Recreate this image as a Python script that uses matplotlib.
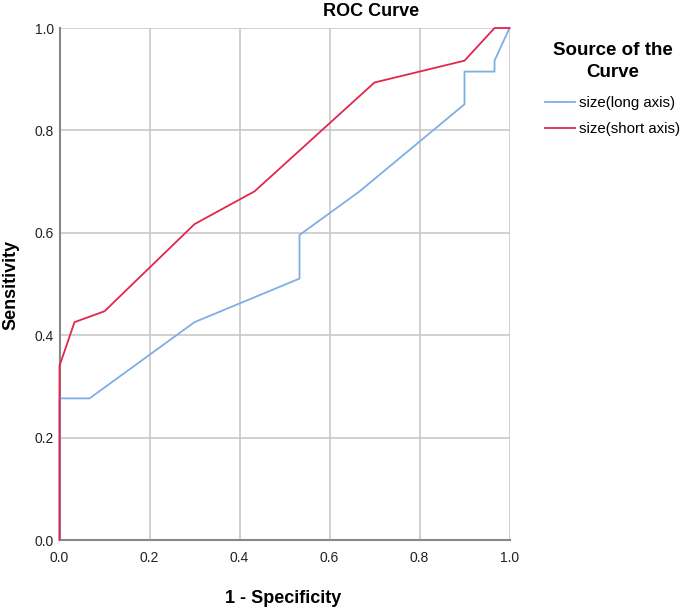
import matplotlib
matplotlib.use('Agg')
import matplotlib.pyplot as plt

plt.rcParams['font.family'] = ['Liberation Sans', 'DejaVu Sans']

# ROC points (1 - specificity, sensitivity)
long_fpr = [0.0, 0.0, 0.0667, 0.3, 0.5333, 0.5333, 0.6667, 0.9, 0.9, 0.9667, 0.9667, 1.0]
long_tpr = [0.0, 0.2766, 0.2766, 0.4255, 0.5106, 0.5957, 0.6809, 0.8511, 0.9149, 0.9149, 0.9362, 1.0]

short_fpr = [0.0, 0.0, 0.0333, 0.1, 0.3, 0.4333, 0.7, 0.9, 0.9667, 1.0]
short_tpr = [0.0, 0.3404, 0.4255, 0.4468, 0.617, 0.6809, 0.8936, 0.9362, 1.0, 1.0]

labels = ['size(long axis)', 'size(short axis)']
colors = ['#7eaee6', '#e2264d']
ticks = [0.0, 0.2, 0.4, 0.6, 0.8, 1.0]

fig = plt.figure(figsize=(6.85, 6.09), dpi=100)
ax = fig.add_axes([0.0869, 0.1133, 0.6569, 0.8407])

ax.plot(long_fpr, long_tpr, color=colors[0], lw=1.3, label=labels[0],
        clip_on=False, zorder=3)
ax.plot(short_fpr, short_tpr, color=colors[1], lw=1.3, label=labels[1],
        clip_on=False, zorder=3)

ax.set_xlim(0, 1)
ax.set_ylim(0, 1)
ax.set_xticks(ticks)
ax.set_yticks(ticks)
ax.set_xticklabels(['%.1f' % t for t in ticks])
ax.set_yticklabels(['%.1f' % t for t in ticks])
ax.tick_params(length=0, labelsize=10, colors='#222222')
ax.tick_params(axis='x', pad=8)
ax.tick_params(axis='y', pad=4)
ax.grid(True, color='#c8c8c8', lw=1.2)
ax.set_axisbelow(True)
for s in ['top', 'right']:
    ax.spines[s].set_visible(False)
for s in ['left', 'bottom']:
    ax.spines[s].set_color('#888888')
    ax.spines[s].set_linewidth(1.5)
    ax.spines[s].set_zorder(2)

fig.text(0.5416, 0.995, 'ROC Curve', ha='center', va='top',
         fontsize=13, fontweight='bold')
fig.text(0.4136, 0.004, '1 - Specificity', ha='center', va='bottom',
         fontsize=13, fontweight='bold')
fig.text(0.003, 0.532, 'Sensitivity', ha='left', va='center', rotation=90,
         fontsize=13, fontweight='bold')

leg = ax.legend(loc='upper left', bbox_to_anchor=(0.7956, 0.9315),
                bbox_transform=fig.transFigure, frameon=False,
                title='Source of the\nCurve', fontsize=10.8, borderpad=0,
                borderaxespad=0, handlelength=2.0, handletextpad=0.3,
                labelspacing=0.78,
                title_fontproperties={'weight': 'bold', 'size': 13.5})
leg.get_title().set_multialignment('center')
leg.get_title().set_linespacing(1.4)
leg._legend_box.align = 'center'
leg._legend_box.sep = 11

fig.savefig('out.png', dpi=100)
